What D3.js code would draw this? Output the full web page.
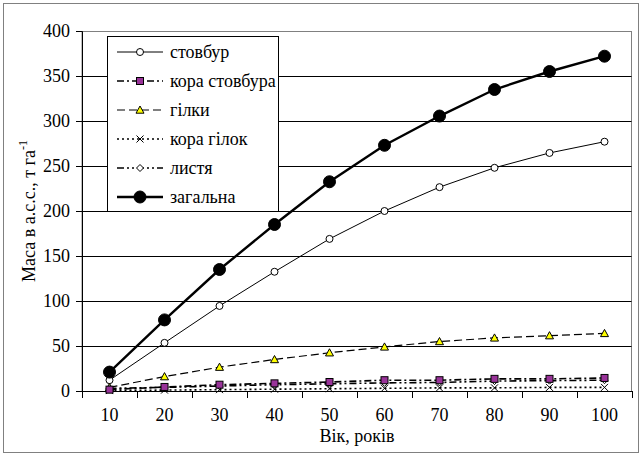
<!DOCTYPE html>
<html>
<head>
<meta charset="utf-8">
<script src="https://cdn.jsdelivr.net/npm/d3@7"></script>
</head>
<body style="margin:0; background:#fff">
<div id="chart"></div>
<script>
// Дані
const ages = [10, 20, 30, 40, 50, 60, 70, 80, 90, 100];
const stovbur = [12, 53.5, 94.5, 132.5, 169, 200, 226.5, 248, 264.5, 277];
const koraStovbura = [1.5, 4.5, 7, 8.5, 10, 12, 12, 13.5, 13.5, 14.5];
const hilky = [4, 16, 26.5, 35, 42.5, 49, 55, 59, 61.5, 64];
const koraHilok = [0.5, 1, 1.5, 2, 2.5, 3, 3.5, 3.5, 4, 4];
const lystia = [3, 4, 5.5, 7, 8, 9, 9.5, 11, 11.5, 12];
const zahalna = [21, 79, 135, 185, 232.5, 273, 305.5, 335, 355, 372];
const yTicks = [0, 50, 100, 150, 200, 250, 300, 350, 400];

const series = [
  { name: "стовбур", values: stovbur, width: 1, dash: null, marker: "circle", r: 3.5, fill: "#fff" },
  { name: "кора стовбура", values: koraStovbura, width: 1.6, dash: "7,3,2,3", marker: "square", r: 3.5, fill: "#993399" },
  { name: "гілки", values: hilky, width: 1.2, dash: "8,4", marker: "triangle", r: 4, fill: "#ffff00" },
  { name: "кора гілок", values: koraHilok, width: 1.6, dash: "2,3", marker: "cross", r: 3.5, fill: "none" },
  { name: "листя", values: lystia, width: 1.6, dash: "7,3,2,3,2,3", marker: "diamond", r: 3.5, fill: "#fff" },
  { name: "загальна", values: zahalna, width: 2.4, dash: null, marker: "bigcircle", r: 6, fill: "#000" }
];

const width = 642;
const height = 456;
const margin = { top: 31, right: 10, bottom: 65, left: 82 };
const plotW = width - margin.left - margin.right;
const plotH = height - margin.top - margin.bottom;

const svg = d3.select("#chart").append("svg")
  .attr("width", width)
  .attr("height", height);

// зовнішня рамка
svg.append("rect")
  .attr("x", 3.5).attr("y", 3.5)
  .attr("width", width - 7).attr("height", height - 7)
  .attr("fill", "none").attr("stroke", "#808080");

const g = svg.append("g").attr("transform", `translate(${margin.left},${margin.top})`);

const x = d3.scaleBand().domain(ages).range([0, plotW]);
const y = d3.scaleLinear().domain([0, 400]).range([plotH, 0]);
const cx = d => x(d) + x.bandwidth() / 2;

// рамка області побудови
g.append("rect")
  .attr("x", 0).attr("y", 0.5)
  .attr("width", plotW - 0.5).attr("height", plotH)
  .attr("fill", "none").attr("stroke", "#808080");

// сітка
g.selectAll(".grid").data(yTicks.filter(t => t > 0 && t < 400)).join("line")
  .attr("x1", 0).attr("x2", plotW - 0.5)
  .attr("y1", d => Math.round(y(d)) + 0.5).attr("y2", d => Math.round(y(d)) + 0.5)
  .attr("stroke", "#000").attr("stroke-width", 1);

// вісь Y
const yAxis = g.append("g").call(d3.axisLeft(y).tickValues(yTicks).tickSize(6).tickPadding(6));
yAxis.select(".domain").attr("stroke", "#000");

// вісь X — поділки між категоріями
const xAxisG = g.append("g").attr("transform", `translate(0,${plotH})`);
xAxisG.append("line").attr("x1", 0).attr("x2", plotW).attr("y1", 0.5).attr("y2", 0.5).attr("stroke", "#000");
xAxisG.selectAll(".tk").data(d3.range(ages.length + 1)).join("line")
  .attr("x1", i => Math.round(i * x.bandwidth()) + 0.5)
  .attr("x2", i => Math.round(i * x.bandwidth()) + 0.5)
  .attr("y1", 0).attr("y2", 7)
  .attr("stroke", "#000");
xAxisG.selectAll(".lbl").data(ages).join("text")
  .attr("x", d => cx(d)).attr("y", 30)
  .attr("text-anchor", "middle")
  .text(d => d);

// підписи осей
svg.append("text")
  .attr("x", margin.left + plotW / 2).attr("y", 442)
  .attr("text-anchor", "middle")
  .text("Вік, років");

const yl = svg.append("text")
  .attr("transform", `translate(35,${margin.top + plotH / 2}) rotate(-90)`)
  .attr("text-anchor", "middle");
yl.append("tspan").text("Маса в а.с.с., т га");
const sup = yl.append("tspan").attr("dy", -8).text("-1");

// маркери
function drawMarker(sel, s) {
  const r = s.r;
  if (s.marker === "circle" || s.marker === "bigcircle") {
    sel.append("circle").attr("r", r).attr("fill", s.fill).attr("stroke", "#000").attr("stroke-width", 1);
  } else if (s.marker === "square") {
    sel.append("rect").attr("x", -r).attr("y", -r).attr("width", 2 * r).attr("height", 2 * r)
      .attr("fill", s.fill).attr("stroke", "#000").attr("stroke-width", 1);
  } else if (s.marker === "triangle") {
    sel.append("path").attr("d", `M0,${-r}L${r},${r * 0.8}L${-r},${r * 0.8}Z`)
      .attr("fill", s.fill).attr("stroke", "#000").attr("stroke-width", 1);
  } else if (s.marker === "cross") {
    sel.append("path").attr("d", `M${-r},${-r}L${r},${r}M${-r},${r}L${r},${-r}`)
      .attr("stroke", "#000").attr("stroke-width", 1);
  } else if (s.marker === "diamond") {
    sel.append("path").attr("d", `M0,${-r}L${r},0L0,${r}L${-r},0Z`)
      .attr("fill", s.fill).attr("stroke", "#000").attr("stroke-width", 1);
  }
}

const line = d3.line().x(d => cx(d.age)).y(d => y(d.v));

// порядок малювання: дрібні серії зверху
const drawOrder = [0, 5, 2, 4, 3, 1];
drawOrder.forEach(i => {
  const s = series[i];
  const pts = ages.map((a, k) => ({ age: a, v: s.values[k] }));
  g.append("path").datum(pts)
    .attr("d", line)
    .attr("fill", "none")
    .attr("stroke", "#000")
    .attr("stroke-width", s.width)
    .attr("stroke-dasharray", s.dash);
  g.selectAll(null).data(pts).join("g")
    .attr("transform", d => `translate(${cx(d.age)},${y(d.v)})`)
    .each(function () { drawMarker(d3.select(this), s); });
});

// легенда
const leg = svg.append("g").attr("transform", "translate(107,36)");
leg.append("rect").attr("x", 0.5).attr("y", 0.5).attr("width", 171).attr("height", 175)
  .attr("fill", "#fff").attr("stroke", "#000");
series.forEach((s, i) => {
  const row = leg.append("g").attr("transform", `translate(0,${16 + i * 29})`);
  row.append("line").attr("x1", 10).attr("x2", 56).attr("y1", 0).attr("y2", 0)
    .attr("stroke", "#000").attr("stroke-width", s.width).attr("stroke-dasharray", s.dash);
  drawMarker(row.append("g").attr("transform", "translate(33,0)"), s);
  row.append("text").attr("x", 63).attr("y", 6).text(s.name);
});

// шрифт для всіх підписів
svg.selectAll("text")
  .style("font-family", '"Liberation Serif"')
  .style("font-size", "18px")
  .style("fill", "#000");
sup.style("font-size", "12px");
</script>
</body>
</html>
